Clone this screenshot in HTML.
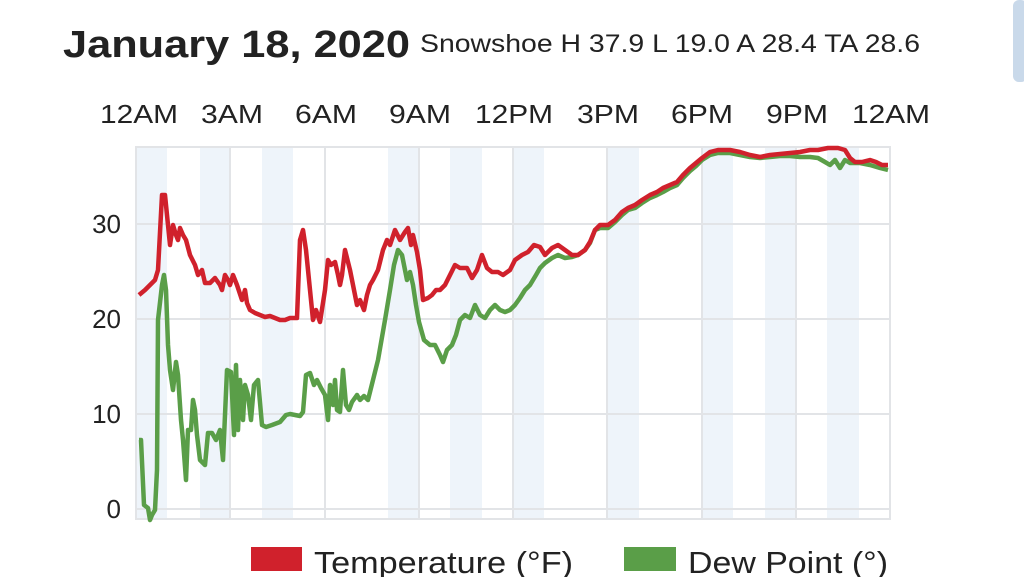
<!DOCTYPE html>
<html><head><meta charset="utf-8"><style>
body{margin:0;width:1024px;height:577px;background:#fff;overflow:hidden;font-family:"Liberation Sans",sans-serif}
</style></head><body>
<svg width="1024" height="577" xmlns="http://www.w3.org/2000/svg" font-family="Liberation Sans, sans-serif">
<rect x="1013" y="0" width="14" height="82" rx="6" fill="#c9d9ea"/>
<text x="63" y="57" font-size="38" font-weight="bold" fill="#222" textLength="347" lengthAdjust="spacingAndGlyphs">January 18, 2020</text>
<text x="420" y="52" font-size="25" fill="#222" textLength="500" lengthAdjust="spacingAndGlyphs">Snowshoe H 37.9 L 19.0 A 28.4 TA 28.6</text>
<g font-size="26" fill="#222" text-anchor="middle" lengthAdjust="spacingAndGlyphs">
<text x="139" y="123" textLength="78" lengthAdjust="spacingAndGlyphs">12AM</text><text x="232" y="123" textLength="62" lengthAdjust="spacingAndGlyphs">3AM</text><text x="326" y="123" textLength="62" lengthAdjust="spacingAndGlyphs">6AM</text><text x="420" y="123" textLength="62" lengthAdjust="spacingAndGlyphs">9AM</text><text x="514" y="123" textLength="78" lengthAdjust="spacingAndGlyphs">12PM</text><text x="608" y="123" textLength="62" lengthAdjust="spacingAndGlyphs">3PM</text><text x="702" y="123" textLength="62" lengthAdjust="spacingAndGlyphs">6PM</text><text x="797" y="123" textLength="62" lengthAdjust="spacingAndGlyphs">9PM</text><text x="891" y="123" textLength="78" lengthAdjust="spacingAndGlyphs">12AM</text>
</g>
<g fill="#eef4fa">
<rect x="137" y="147" width="30" height="372"/><rect x="200" y="147" width="30" height="372"/><rect x="262" y="147" width="31" height="372"/><rect x="388" y="147" width="31" height="372"/><rect x="450" y="147" width="32" height="372"/><rect x="513" y="147" width="31" height="372"/><rect x="607" y="147" width="32" height="372"/><rect x="702" y="147" width="31" height="372"/><rect x="765" y="147" width="31" height="372"/><rect x="827" y="147" width="32" height="372"/>
</g>
<g stroke="#e2e4e7" stroke-width="2" fill="none">
<rect x="136" y="147" width="754" height="372"/>
<line x1="136" y1="509" x2="890" y2="509"/><line x1="136" y1="414" x2="890" y2="414"/><line x1="136" y1="319" x2="890" y2="319"/><line x1="136" y1="224" x2="890" y2="224"/>
<line x1="230" y1="147" x2="230" y2="519"/><line x1="325" y1="147" x2="325" y2="519"/><line x1="419" y1="147" x2="419" y2="519"/><line x1="513" y1="147" x2="513" y2="519"/><line x1="607" y1="147" x2="607" y2="519"/><line x1="702" y1="147" x2="702" y2="519"/><line x1="796" y1="147" x2="796" y2="519"/>
</g>
<g font-size="26" fill="#222" text-anchor="end">
<text x="121" y="233">30</text><text x="121" y="328">20</text><text x="121" y="423">10</text><text x="121" y="518">0</text>
</g>
<polyline fill="none" stroke="#5a9e48" stroke-width="4.5" stroke-linejoin="round" points="139,440 141,440 144,505 148,508 150,520 152,515 155,510 157,470 158,320 162,285 164,275 166,290 168,345 170,370 173,390 176,362 178,375 181,420 183,440 186,480 188,430 191,430 193,400 195,410 197,435 200,460 205,465 208,433 212,433 216,440 220,430 223,460 227,370 231,372 234,435 236,365 238,430 240,380 243,420 245,385 248,395 251,420 254,385 258,380 262,425 266,427 272,425 280,422 286,415 290,414 295,415 300,416 303,412 306,375 310,373 314,385 317,380 321,388 325,395 328,420 330,385 333,405 335,380 337,410 340,412 343,370 346,405 349,410 352,402 357,395 360,400 364,396 368,400 373,380 378,360 385,320 390,290 394,265 398,250 402,255 407,280 410,272 413,285 416,305 419,322 424,340 430,345 435,345 440,355 443,362 447,350 452,345 456,335 460,320 465,315 470,318 475,305 480,315 485,318 490,310 495,305 500,310 505,312 510,310 515,305 520,298 525,290 530,285 536,275 540,268 545,263 552,258 558,255 565,258 572,257 578,255 585,250 590,243 595,230 600,228 608,228 615,222 622,215 628,210 635,208 642,203 650,198 657,195 663,192 670,188 677,185 683,178 690,171 696,166 702,160 710,155 718,153 730,153 740,155 750,157 760,158 770,157 780,156 790,156 800,157 810,157 818,158 825,162 830,165 835,160 840,168 845,160 850,163 860,163 870,165 880,168 888,170"/>
<polyline fill="none" stroke="#d0212c" stroke-width="4.5" stroke-linejoin="round" points="139,295 145,290 150,285 155,280 158,270 162,195 165,195 168,225 170,245 173,225 176,235 178,240 180,228 183,235 186,240 190,255 195,265 198,275 202,270 205,283 210,283 215,278 220,285 222,290 225,275 228,280 230,285 233,275 237,285 242,300 245,290 247,303 250,310 255,313 260,315 265,317 270,316 275,318 280,320 285,320 290,318 297,318 300,240 303,230 306,250 310,290 313,320 316,310 320,322 325,290 328,260 331,265 335,262 338,275 340,285 342,275 345,250 350,270 353,285 357,305 360,300 364,310 367,295 370,285 373,280 378,270 383,250 387,240 390,245 395,230 400,240 405,232 408,228 411,245 413,235 417,252 420,270 423,300 428,298 432,295 436,290 440,290 445,285 450,275 455,265 460,268 463,268 467,268 472,278 477,270 482,255 487,268 492,272 498,272 503,275 510,270 515,260 522,255 528,252 534,245 540,247 545,255 552,248 558,245 565,250 572,255 578,255 585,250 590,242 595,230 600,225 608,225 615,220 622,212 628,208 635,205 642,200 650,195 657,192 663,188 670,185 677,182 683,175 690,168 696,163 702,158 710,152 718,150 730,150 740,152 750,155 760,157 770,155 780,154 790,153 800,152 810,150 818,150 828,148 838,148 845,150 850,158 855,162 862,162 870,160 876,162 882,165 888,165"/>
<rect x="251" y="547" width="51" height="24" fill="#d0212c"/>
<text x="314" y="573" font-size="31" fill="#222" textLength="259" lengthAdjust="spacingAndGlyphs">Temperature (°F)</text>
<rect x="624" y="547" width="52" height="24" fill="#5a9e48"/>
<text x="688" y="573" font-size="31" fill="#222" textLength="200" lengthAdjust="spacingAndGlyphs">Dew Point (°)</text>
</svg>
</body></html>
